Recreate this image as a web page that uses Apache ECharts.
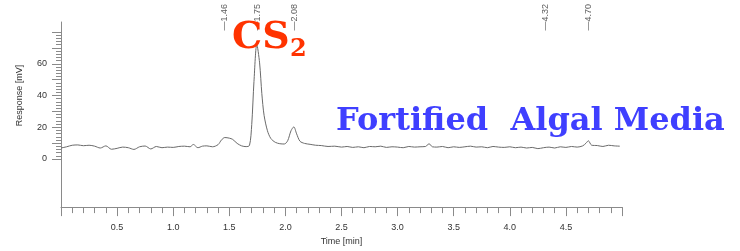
<!DOCTYPE html>
<html>
<head>
<meta charset="utf-8">
<script src="https://cdn.jsdelivr.net/npm/echarts@6/dist/echarts.min.js"></script>
<style>
  html, body { margin: 0; padding: 0; background: #fff; }
  #main { width: 740px; height: 251px; }
</style>
</head>
<body>
<div id="main"></div>
<script>
// 色谱图数据 (时间 min, 响应 mV)
var time = [
  0.00, 0.05, 0.10, 0.15, 0.20, 0.25, 0.30, 0.35, 0.40, 0.45,
  0.50, 0.55, 0.60, 0.65, 0.70, 0.75, 0.80, 0.85, 0.90, 0.95,
  1.00, 1.05, 1.10, 1.15, 1.18, 1.22, 1.26, 1.30, 1.35, 1.40,
  1.43, 1.46, 1.50, 1.53, 1.57, 1.61, 1.65, 1.68, 1.70, 1.72,
  1.745, 1.77, 1.79, 1.81, 1.84, 1.87, 1.91, 1.95, 1.99, 2.02,
  2.05, 2.075, 2.10, 2.13, 2.17, 2.22, 2.27, 2.32, 2.38, 2.44,
  2.50, 2.55, 2.60, 2.65, 2.70, 2.75, 2.80, 2.85, 2.90, 2.95,
  3.00, 3.05, 3.10, 3.15, 3.20, 3.25, 3.28, 3.31, 3.35, 3.40,
  3.45, 3.50, 3.55, 3.60, 3.65, 3.70, 3.75, 3.80, 3.85, 3.90,
  3.95, 4.00, 4.05, 4.10, 4.15, 4.20, 4.25, 4.30, 4.35, 4.40,
  4.45, 4.50, 4.55, 4.60, 4.65, 4.68, 4.70, 4.73, 4.78, 4.83,
  4.88, 4.93, 4.98
];
var response = [
  4.8, 5.6, 6.6, 6.8, 6.3, 6.6, 6.0, 4.8, 6.2, 4.0,
  4.6, 5.4, 5.0, 3.9, 5.6, 6.1, 4.2, 5.8, 5.0, 5.4,
  5.2, 5.8, 6.0, 5.6, 7.1, 5.0, 6.0, 6.2, 5.6, 7.0,
  10.0, 11.6, 11.2, 10.4, 7.8, 6.2, 5.7, 6.5, 20, 48,
  72, 60, 40, 26, 16, 11, 8.5, 7.6, 7.4, 9.5,
  16, 18.5, 14, 9.2, 7.8, 7.2, 6.6, 6.4, 5.8, 6.0,
  5.4, 5.8, 5.2, 5.6, 5.0, 5.8, 5.6, 6.0, 5.2, 5.6,
  5.4, 5.0, 5.8, 5.4, 5.6, 5.8, 7.6, 5.6, 5.4, 5.8,
  5.0, 5.6, 5.2, 5.6, 6.0, 5.4, 5.6, 5.0, 5.8, 5.4,
  5.2, 5.6, 5.0, 5.4, 4.8, 5.2, 4.4, 5.0, 5.4, 4.8,
  5.6, 5.2, 5.8, 5.4, 6.2, 8.0, 9.5, 6.6, 6.4, 5.8,
  6.6, 6.2, 6.0
];
// 峰的保留时间标记
var peakTimes = [1.46, 1.75, 2.08, 4.32, 4.70];
var peakLabels = ["\u20141.46", "\u20141.75", "\u20142.08", "\u20144.32", "\u20144.70"];

var myChart = echarts.init(document.getElementById("main"));

var lineData = time.map(function (t, i) { return [t, response[i]]; });
var peakData = peakTimes.map(function (t, i) {
  return { value: [t, 81], label: { formatter: peakLabels[i] } };
});

var axisColor = "#8a8a8a";
var textColor = "#333";

var option = {
  animation: false,
  title: [
    {
      text: "CS",
      left: 227, top: 14,
      textStyle: { fontFamily: "DejaVu Serif", fontWeight: "bold", fontSize: 38, color: "#ff3300" }
    },
    {
      text: "2",
      left: 285, top: 33,
      textStyle: { fontFamily: "DejaVu Serif", fontWeight: "bold", fontSize: 24, color: "#ff3300" }
    },
    {
      text: "Fortified  Algal Media",
      left: 331, top: 101,
      textStyle: { fontFamily: "DejaVu Serif", fontWeight: "bold", fontSize: 32, color: "#3f3fff" }
    }
  ],
  grid: [
    { left: 61, right: 118, top: 22, height: 190 },
    { left: 61, right: 118, top: 32, height: 127 }
  ],
  xAxis: [
    {
      type: "value", gridIndex: 0, min: 0, max: 5, interval: 0.5,
      name: "Time [min]", nameLocation: "middle", nameGap: 28,
      nameTextStyle: { fontFamily: "Liberation Sans", fontSize: 9, color: textColor },
      axisLine: { onZero: false, lineStyle: { color: axisColor } },
      axisTick: { length: 9, lineStyle: { color: axisColor } },
      minorTick: { show: true, splitNumber: 5, length: 6, lineStyle: { color: axisColor } },
      axisLabel: {
        margin: 16, fontFamily: "Liberation Sans", fontSize: 9, color: textColor,
        formatter: function (v) { return (v === 0 || v === 5) ? "" : v.toFixed(1); }
      },
      splitLine: { show: false }
    },
    { type: "value", gridIndex: 1, min: 0, max: 5, show: false }
  ],
  yAxis: [
    {
      type: "value", gridIndex: 0, min: -33.5, max: 86.5,
      axisLine: { show: true, onZero: false, lineStyle: { color: axisColor } },
      axisTick: { show: false },
      axisLabel: { show: false },
      splitLine: { show: false }
    },
    {
      type: "value", gridIndex: 1, min: 0, max: 80, interval: 10,
      name: "Response [mV]", nameLocation: "middle", nameGap: 37,
      nameTextStyle: { fontFamily: "Liberation Sans", fontSize: 9, color: textColor },
      axisLine: { show: false, onZero: false },
      axisTick: { show: true, length: 9, lineStyle: { color: axisColor } },
      minorTick: { show: true, splitNumber: 5, length: 5, lineStyle: { color: axisColor } },
      axisLabel: {
        margin: 14, fontFamily: "Liberation Sans", fontSize: 9, color: textColor,
        formatter: function (v) { return (v % 20 === 0 && v < 80) ? String(v) : ""; }
      },
      splitLine: { show: false }
    }
  ],
  series: [
    {
      type: "line", xAxisIndex: 0, yAxisIndex: 0,
      data: lineData, showSymbol: false, smooth: 0.3,
      lineStyle: { color: "#6a6a6a", width: 1 }
    },
    {
      type: "scatter", xAxisIndex: 0, yAxisIndex: 0,
      data: peakData, symbolSize: 0, z: 1,
      label: {
        show: true, position: [0, 0], rotate: 90, align: "left", verticalAlign: "middle",
        fontFamily: "Liberation Sans", fontSize: 9, color: textColor
      }
    }
  ]
};

myChart.setOption(option);
</script>
</body>
</html>
